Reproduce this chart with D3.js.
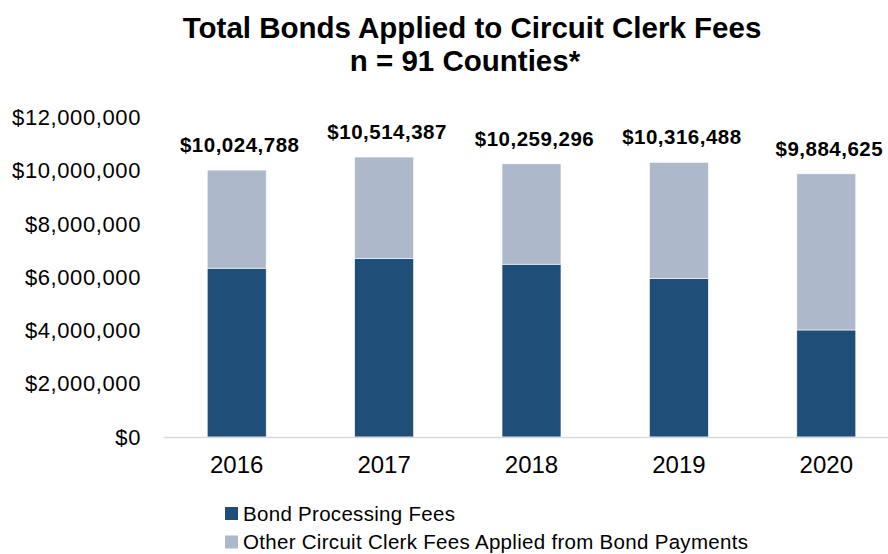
<!DOCTYPE html>
<html>
<head>
<meta charset="utf-8">
<script src="https://cdn.jsdelivr.net/npm/d3@7"></script>
<style>
  body { margin: 0; background: #fff; }
  text { font-family: "Liberation Sans", Arial, sans-serif; fill: #000; }
</style>
</head>
<body>
<div id="chart"></div>
<script>
const years = ['2016', '2017', '2018', '2019', '2020'];
const processingFees = [6340000, 6710000, 6490000, 5960000, 4020000];
const totals = [10024788, 10514387, 10259296, 10316488, 9884625];
const otherFees = totals.map((t, i) => t - processingFees[i]);
const seriesNames = ['Bond Processing Fees', 'Other Circuit Clerk Fees Applied from Bond Payments'];
const yTicks = [0, 2000000, 4000000, 6000000, 8000000, 10000000, 12000000];

const width = 888;
const height = 554;
const colors = ['#1f4e79', '#adb9ca'];

const data = years.map((y, i) => ({ year: y, fees: processingFees[i], other: otherFees[i], total: totals[i] }));

const svg = d3.select('#chart')
    .append('svg')
    .attr('width', width)
    .attr('height', height);

const xScale = d3.scaleBand()
    .domain(years)
    .range([163, 900])
    .paddingInner(0.6)
    .paddingOuter(0.3);
const yScale = d3.scaleLinear()
    .domain([0, 12000000])
    .range([437, 117.5]);

// title
svg.append('text')
    .attr('x', 472).attr('y', 38)
    .attr('text-anchor', 'middle')
    .style('font-size', '29.5px').style('font-weight', 'bold')
    .text('Total Bonds Applied to Circuit Clerk Fees');
svg.append('text')
    .attr('x', 465).attr('y', 71)
    .attr('text-anchor', 'middle')
    .style('font-size', '29.5px').style('font-weight', 'bold')
    .text('n = 91 Counties*');

// y axis labels, no line
const money = d3.format('$,');
const yAxis = d3.axisLeft(yScale)
    .tickValues(yTicks)
    .tickFormat(money)
    .tickSize(0)
    .tickPadding(0);
const yAxisG = svg.append('g')
    .attr('transform', 'translate(141,0)')
    .call(yAxis);
yAxisG.select('.domain').remove();
yAxisG.selectAll('text')
    .style('font-size', '22px')
    .style('letter-spacing', '0.6px')
    .attr('fill', '#000');

// stacked bars
const stack = d3.stack().keys(['fees', 'other']);
const layers = stack(data);

svg.append('g').selectAll('g')
    .data(layers)
    .enter()
    .append('g')
    .attr('fill', (d, i) => colors[i])
    .selectAll('rect')
    .data(d => d)
    .enter()
    .append('rect')
    .attr('x', d => xScale(d.data.year))
    .attr('y', d => yScale(d[1]))
    .attr('width', xScale.bandwidth())
    .attr('height', d => yScale(d[0]) - yScale(d[1]))
    .attr('stroke', '#ffffff')
    .attr('stroke-width', 0.6);

// x axis
const xAxis = d3.axisBottom(xScale)
    .tickSize(0)
    .tickPadding(19);
const xAxisG = svg.append('g')
    .attr('transform', 'translate(0,437)')
    .call(xAxis);
xAxisG.select('.domain')
    .attr('stroke', '#d9d9d9')
    .attr('stroke-width', 1.5);
xAxisG.selectAll('text')
    .style('font-size', '24px')
    .attr('fill', '#000');

// total labels
svg.append('g').selectAll('text')
    .data(data)
    .enter()
    .append('text')
    .attr('x', d => xScale(d.year) + xScale.bandwidth() / 2 + 3)
    .attr('y', d => yScale(d.total) - 18)
    .attr('text-anchor', 'middle')
    .style('font-size', '20.5px')
    .style('font-weight', 'bold')
    .style('letter-spacing', '0.5px')
    .text(d => money(d.total));

// legend
const legend = svg.append('g')
    .attr('transform', 'translate(225,507)');
const legendItems = legend.selectAll('g')
    .data(seriesNames)
    .enter()
    .append('g')
    .attr('transform', (d, i) => 'translate(0,' + i * 28.5 + ')');
legendItems.append('rect')
    .attr('width', 13).attr('height', 13)
    .attr('fill', (d, i) => colors[i]);
legendItems.append('text')
    .attr('x', 18).attr('y', 13.5)
    .style('font-size', '20.5px')
    .style('letter-spacing', '0.3px')
    .text(d => d);
</script>
</body>
</html>
